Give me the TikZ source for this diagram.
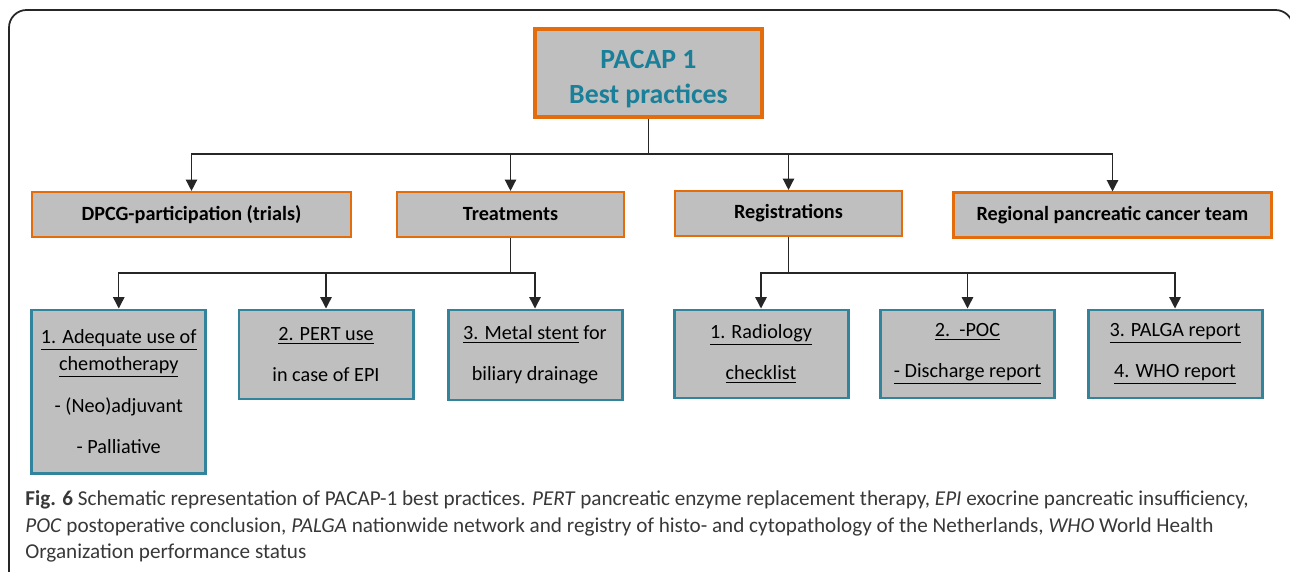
\documentclass[tikz,border=0pt]{standalone}
\usepackage{fontspec}
\setmainfont{Carlito}
\usepackage{xcolor}
\usepackage{tikz}
\usetikzlibrary{positioning}
\usetikzlibrary{arrows.meta}

\definecolor{pacorange}{HTML}{E46C0A}
\definecolor{pacgray}{HTML}{BFBFBF}
\definecolor{pacteal}{HTML}{31849B}
\definecolor{pactext}{HTML}{1A7F99}
\definecolor{capgray}{HTML}{383838}

\tikzset{
	topbox/.style={draw=pacorange, fill=pacgray, line width=2.3pt, align=center,
		minimum width=227*0.02cm, minimum height=88*0.02cm, text=pactext,
		font=\bfseries\fontsize{15.8}{19}\selectfont},
	mainbox/.style={draw=pacorange, fill=pacgray, line width=1.2pt, align=center,
		minimum height=45*0.02cm, font=\bfseries\fontsize{11.5}{14}\selectfont},
	subbox/.style={draw=pacteal, fill=pacgray, line width=1.7pt, align=center,
		minimum width=174*0.02cm, font=\fontsize{11.5}{14}\selectfont},
	arr/.style={draw=black!85, line width=0.8pt, -{Triangle[width=6.5pt,length=6.5pt]}},
	captext/.style={anchor=base west, inner sep=0pt, text=capgray,
		font=\fontsize{12.05}{15}\selectfont}
}

\begin{document}
\begin{tikzpicture}[x=0.02cm, y=-0.02cm]
	\useasboundingbox (0,0) rectangle (1290,571);
	\draw[black!85, line width=1pt, rounded corners=10] (9,10) rectangle (1293,620);

	\node[topbox] (pacap) at (648.5,73) {\rule{0pt}{17.5pt}PACAP 1\\[1pt]Best practices};

	\node[mainbox, minimum width=319*0.02cm] (dpcg) at (191.5,214.5) {DPCG-participation (trials)};
	\node[mainbox, minimum width=227*0.02cm] (treat) at (510.5,214.5) {Treatments};
	\node[mainbox, minimum width=227*0.02cm] (reg) at (788.5,213.5) {Registrations};
	\node[mainbox, minimum width=318*0.02cm] (regional) at (1112.5,215) {Regional pancreatic cancer team};

	\node[subbox, minimum height=163*0.02cm] (chemo) at (118.75,391.5)
		{\underline{1. Adequate use of}\\[1.5pt]\underline{chemotherapy}\\[9.5pt]- (Neo)adjuvant\\[9.5pt]- Palliative};
	\node[subbox, minimum height=89*0.02cm] (pert) at (326,354.5)
		{\underline{2. PERT use}\\[9.5pt]in case of EPI};
	\node[subbox, minimum height=90*0.02cm] (stent) at (535,355)
		{\underline{3. Metal stent} for\\[9.5pt]biliary drainage};

	\node[subbox, minimum height=88*0.02cm] (radio) at (761,354)
		{\underline{1. Radiology}\\[9.5pt]\underline{checklist}};
	\node[subbox, minimum height=88*0.02cm] (poc) at (967.5,354)
		{\underline{2.\ \ -POC}\\[9.5pt]\underline{- Discharge report}};
	\node[subbox, minimum height=88*0.02cm] (palga) at (1175,354)
		{\underline{3. PALGA report}\\[9.5pt]\underline{4. WHO report}};

	% connectors
	\coordinate (bus1) at (0,154);
	\coordinate (bus2) at (0,273);
	\foreach \n in {dpcg,treat,reg,regional}
		\draw[arr] (pacap.south) -- (pacap.south |- bus1) -| (\n.north);
	\foreach \n in {chemo,pert,stent}
		\draw[arr] (treat.south) -- (treat.south |- bus2) -| (\n.north);
	\foreach \n in {radio,poc,palga}
		\draw[arr] (reg.south) -- (reg.south |- bus2) -| (\n.north);

	% caption
	\node[captext] (cap1) at (25,505) {\textbf{Fig. 6} Schematic representation of PACAP-1 best practices. \textit{PERT} pancreatic enzyme replacement therapy, \textit{EPI} exocrine pancreatic insufficiency,};
	\node[captext] (cap2) at (25,532) {\textit{POC} postoperative conclusion, \textit{PALGA} nationwide network and registry of histo- and cytopathology of the Netherlands, \textit{WHO} World Health};
	\node[captext] (cap3) at (25,558) {Organization performance status};
\end{tikzpicture}
\end{document}
